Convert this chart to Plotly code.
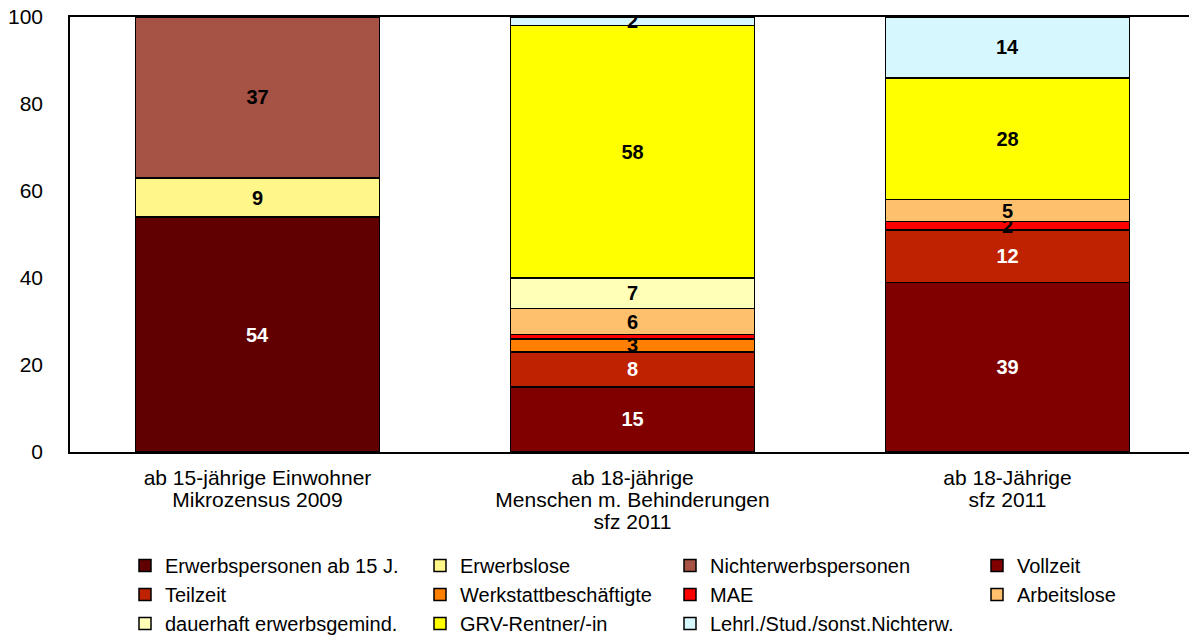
import plotly.graph_objects as go

# Categories (x axis), lines separated by <br>
categories = [
    "ab 15-jährige Einwohner<br>Mikrozensus 2009",
    "ab 18-jährige<br>Menschen m. Behinderungen<br>sfz 2011",
    "ab 18-Jährige<br>sfz 2011",
]

# Series values in percent, stacked bottom to top
erwerbspersonen = [54, None, None]
erwerbslose = [9, None, None]
nichterwerbspersonen = [37, None, None]
vollzeit = [None, 15, 39]
teilzeit = [None, 8, 12]
werkstatt = [None, 3, None]
mae = [None, 1, 2]
arbeitslose = [None, 6, 5]
dauerhaft = [None, 7, None]
grv_rentner = [None, 58, 28]
lehrl_stud = [None, 2, 14]

y_ticks = [0, 20, 40, 60, 80, 100]

# name, values, fill colour, label colour, legend column
series = [
    ("Erwerbspersonen ab 15 J.", erwerbspersonen, "#600000", "white", "legend"),
    ("Erwerbslose", erwerbslose, "#FFF78A", "black", "legend2"),
    ("Nichterwerbspersonen", nichterwerbspersonen, "#A65244", "black", "legend3"),
    ("Vollzeit", vollzeit, "#800000", "white", "legend4"),
    ("Teilzeit", teilzeit, "#BF2200", "white", "legend"),
    ("Werkstattbeschäftigte", werkstatt, "#FF8000", "black", "legend2"),
    ("MAE", mae, "#FF0000", "black", "legend3"),
    ("Arbeitslose", arbeitslose, "#FFC06E", "black", "legend4"),
    ("dauerhaft erwerbsgemind.", dauerhaft, "#FFFFB8", "black", "legend"),
    ("GRV-Rentner/-in", grv_rentner, "#FFFF00", "black", "legend2"),
    ("Lehrl./Stud./sonst.Nichterw.", lehrl_stud, "#D7F7FF", "black", "legend3"),
]

FONT = "Liberation Sans, Arial, sans-serif"
TEXT_SIZE = 21
LEGEND_SIZE = 20
LABEL_SIZE = 20
XTICK_LINE = 17  # base size controlling the line spacing of category labels

fig = go.Figure()
for name, vals, color, tcol, leg in series:
    labels = ["" if (v is None or v < 2) else str(v) for v in vals]
    fig.add_trace(go.Bar(
        x=categories,
        y=vals,
        name=name,
        legend=leg,
        legendgroup=name,
        text=labels,
        textposition="inside",
        insidetextanchor="middle",
        textangle=0,
        textfont=dict(family=FONT, size=LABEL_SIZE, color=tcol, weight="bold"),
        marker=dict(color=color, line=dict(color="black", width=1.5)),
        width=0.65,
        hoverinfo="skip",
    ))

plot_left, plot_top, plot_bottom = 70, 17, 452
W, H = 1189, 639
plot_w = W - plot_left


def legend_cfg(text_x):
    return dict(
        x=(text_x - 40 - plot_left) / plot_w,
        y=1 - 546 / H,
        yref="container",
        xanchor="left",
        yanchor="top",
        orientation="v",
        traceorder="grouped",
        tracegroupgap=0,
        font=dict(family=FONT, size=LEGEND_SIZE, color="black"),
        bgcolor="rgba(0,0,0,0)",
    )


def big_lines(label):
    return "<br>".join(
        f"<span style='font-size:{TEXT_SIZE}px'>{part}</span>" for part in label.split("<br>")
    )


fig.update_layout(
    width=W,
    height=H,
    barmode="stack",
    plot_bgcolor="white",
    paper_bgcolor="white",
    margin=dict(l=plot_left, r=0, t=plot_top, b=H - plot_bottom, autoexpand=False),
    uniformtext=dict(minsize=LABEL_SIZE, mode="show"),
    showlegend=True,
    legend=legend_cfg(165),
    legend2=legend_cfg(460),
    legend3=legend_cfg(710),
    legend4=legend_cfg(1017),
    font=dict(family=FONT, size=TEXT_SIZE, color="black"),
)

fig.update_xaxes(
    range=[-0.5, -0.5 + plot_w / 375],
    tickmode="array",
    tickvals=categories,
    ticktext=[big_lines(c) for c in categories],
    showline=True,
    linecolor="black",
    linewidth=1.5,
    mirror=True,
    showgrid=False,
    ticks="",
    ticklabelstandoff=11,
    tickfont=dict(family=FONT, size=XTICK_LINE, color="black"),
)
fig.update_yaxes(
    range=[0, 100],
    tickvals=y_ticks,
    showline=True,
    linecolor="black",
    linewidth=1.5,
    showgrid=False,
    zeroline=False,
    ticks="",
    ticklabelstandoff=21,
    tickfont=dict(family=FONT, size=TEXT_SIZE, color="black"),
)

fig.write_html("out.html")
